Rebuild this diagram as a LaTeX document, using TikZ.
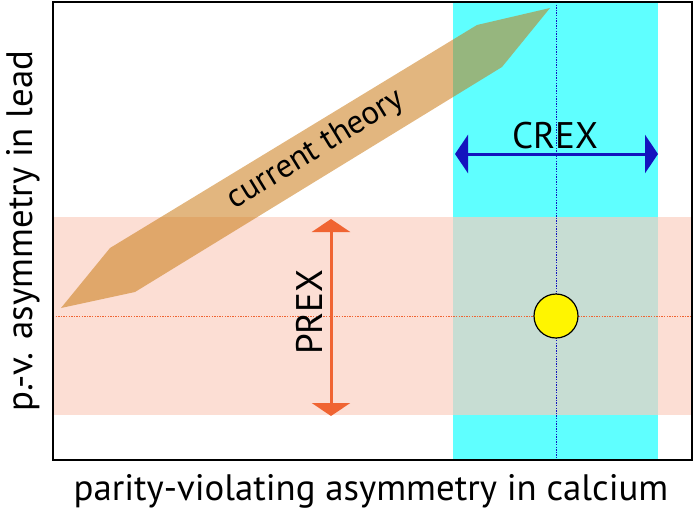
\documentclass[tikz,border=0pt]{standalone}
\usepackage{fontspec}
\setmainfont{PT Sans}
\usetikzlibrary{arrows.meta}
\definecolor{crexcyan}{RGB}{95,255,255}
\definecolor{prexpink}{RGB}{250,206,191}
\definecolor{theorytan}{RGB}{200,118,13}
\definecolor{prexorange}{RGB}{240,100,50}
\definecolor{crexblue}{RGB}{20,20,190}
\definecolor{leadyellow}{RGB}{255,245,0}

\begin{document}
\begin{tikzpicture}[x = 1pt, y = -1pt,
    axislabel/.style = {font = \fontsize{36.8}{38}\selectfont},
    bigtip/.style = {line width = 3pt, {Triangle[width = 38pt, length = 13pt]}-{Triangle[width = 38pt, length = 13pt]}},
    guide/.style = {line width = 1.4pt, dash pattern = on 1.4pt off 1.2pt}]
    \useasboundingbox (0, 0) rectangle (700, 511);
    % bands
    \fill [crexcyan] (453, 2) rectangle (658, 460);
    \fill [prexpink, opacity = .675] (53, 217) rectangle (692, 415);
    \fill [theorytan, opacity = .53] (61, 308) -- (110, 248) -- (477, 25) -- (550, 8)
      -- (502, 67) -- (135, 292) -- cycle;
    % guide lines
    \coordinate (vtop) at (556.5, 2);
    \coordinate (vbot) at (556.5, 460);
    \coordinate (hleft) at (53, 316.5);
    \coordinate (hright) at (692, 316.5);
    \draw [guide, crexblue] (vtop)--(vbot);
    \draw [guide, prexorange] (hleft)--(hright);
    \draw [line width = 1.5pt] (53, 2) rectangle (692, 460);
    % error bars
    \coordinate (crexl) at (455, 154);
    \coordinate (crexr) at (658, 154);
    \coordinate (prext) at (331, 219);
    \coordinate (prexb) at (331, 416);
    \draw [bigtip, crexblue] (crexl)--(crexr);
    \draw [bigtip, prexorange] (prext)--(prexb);
    \node (pt) at (556, 316) [draw, circle, fill = leadyellow, line width = 1.2pt, inner sep = 0pt, minimum size = 44pt] {};
    % labels
    \node (crex) at (555, 136) [font = \fontsize{37}{38}\selectfont] {CREX};
    \node (prex) at (309, 312) [rotate = 90, font = \fontsize{37}{38}\selectfont] {PREX};
    \node (theory) at (316, 150) [rotate = 31.4, font = \fontsize{33}{34}\selectfont] {current theory};
    \node (xlab) at (371, 500) [anchor = base, axislabel] {parity-violating asymmetry in calcium};
    \node (ylab) at (32, 231) [anchor = base, rotate = 90, axislabel] {p.-v. asymmetry in lead};
  \end{tikzpicture}
\end{document}
